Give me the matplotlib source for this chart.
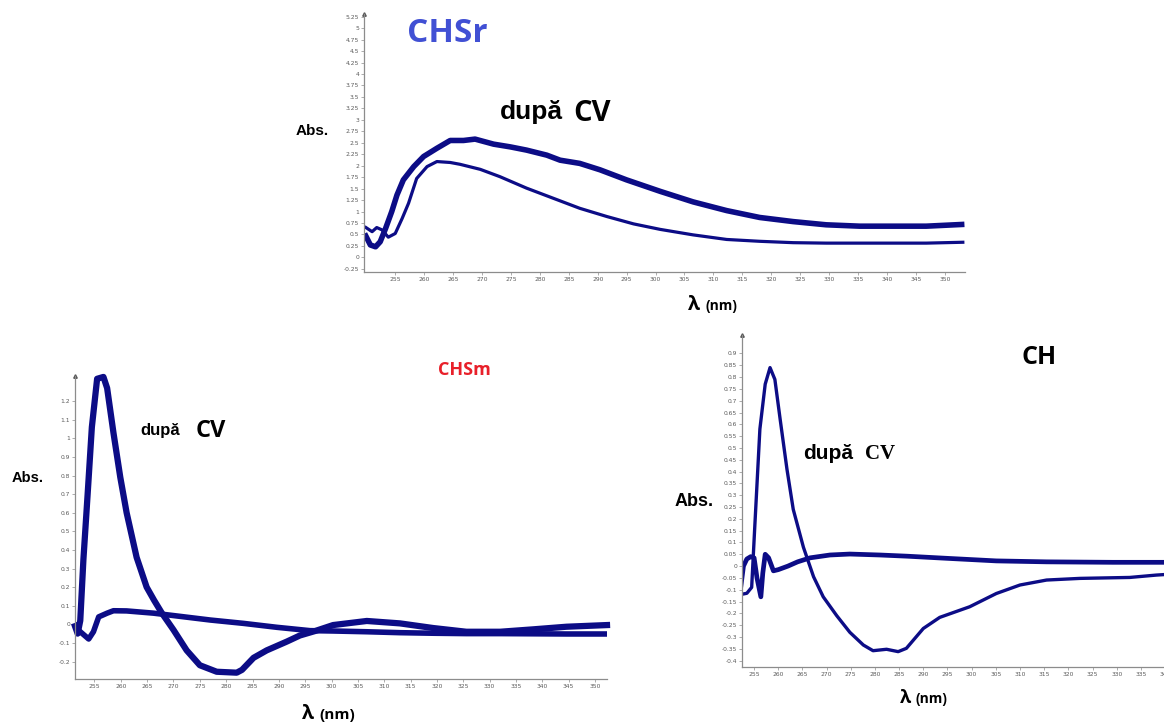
import numpy as np
import matplotlib.pyplot as plt

W, H = 1164, 724
NAVY = '#0c0c86'
AXIS = '#8c8c8c'
TICKTXT = '#5a5a5a'

# ---- CHSr (top panel) ----
chsr_wl_thick = [249.7, 250.7, 251.6, 252.4, 253.3, 254.4, 255.3, 256.4, 258.2, 259.9, 262.2,
                 264.5, 266.8, 268.8, 272.0, 274.9, 277.7, 281.2, 283.5, 286.9, 290.4, 295.0,
                 300.8, 306.5, 312.3, 318.0, 323.8, 329.5, 335.3, 341.1, 346.8, 353.4]
chsr_abs_thick = [0.52, 0.27, 0.23, 0.34, 0.62, 1.00, 1.36, 1.69, 1.98, 2.20, 2.38,
                  2.55, 2.55, 2.58, 2.47, 2.41, 2.34, 2.23, 2.12, 2.05, 1.91, 1.69,
                  1.44, 1.21, 1.02, 0.87, 0.78, 0.71, 0.68, 0.68, 0.68, 0.72]
chsr_wl_thin = [249.7, 251.0, 251.8, 252.7, 253.8, 255.0, 256.2, 257.3, 258.7, 260.5, 262.2,
                264.5, 266.2, 269.7, 273.1, 277.7, 282.3, 286.9, 291.6, 296.2, 300.8, 306.5,
                312.3, 318.0, 323.8, 329.5, 341.1, 346.8, 353.4]
chsr_abs_thin = [0.67, 0.56, 0.65, 0.60, 0.44, 0.52, 0.85, 1.18, 1.72, 1.98, 2.09,
                 2.07, 2.03, 1.92, 1.76, 1.51, 1.29, 1.07, 0.89, 0.73, 0.61, 0.49,
                 0.39, 0.35, 0.32, 0.31, 0.31, 0.31, 0.33]

# ---- CHSm (bottom left panel) ----
chsm_wl_peak = [251.3, 251.8, 252.3, 252.9, 253.7, 254.5, 255.5, 256.7, 257.4, 258.6, 259.9,
                261.1, 263.0, 264.9, 266.3, 267.8, 270.0, 272.5, 275.0, 278.2, 282.0, 283.0,
                285.2, 287.7, 291.5, 294.0, 297.0, 300.3, 306.7, 313.0, 319.3, 325.6, 332.0,
                338.3, 344.6, 352.3]
chsm_abs_peak = [-0.01, -0.05, 0.02, 0.35, 0.70, 1.06, 1.32, 1.33, 1.27, 1.03, 0.79,
                 0.60, 0.36, 0.20, 0.13, 0.06, -0.03, -0.14, -0.22, -0.255, -0.26, -0.245,
                 -0.18, -0.14, -0.093, -0.06, -0.035, -0.004, 0.018, 0.005, -0.02, -0.04, -0.04,
                 -0.027, -0.013, -0.004]
chsm_wl_flat = [251.3, 252.3, 253.9, 254.8, 255.8, 257.4, 258.6, 261.1, 266.2, 270.6, 277.0,
                283.3, 289.6, 295.9, 300.3, 306.7, 313.0, 319.3, 325.6, 332.0, 338.3, 344.6,
                352.3]
chsm_abs_flat = [-0.013, -0.04, -0.079, -0.04, 0.04, 0.06, 0.073, 0.072, 0.06, 0.045, 0.023,
                 0.005, -0.016, -0.034, -0.036, -0.04, -0.045, -0.048, -0.05, -0.05, -0.051, -0.052,
                 -0.052]

# ---- CH (bottom right panel) ----
ch_wl_peak = [252.3, 253.5, 254.5, 255.1, 256.2, 257.3, 258.3, 259.3, 260.4, 261.8, 263.1,
              265.2, 267.3, 269.3, 272.1, 274.8, 277.6, 279.6, 282.4, 284.8, 286.5, 288.5,
              290.0, 293.4, 299.6, 305.1, 310.0, 315.5, 322.4, 332.7, 338.2, 340.5]
ch_abs_peak = [-0.12, -0.115, -0.09, 0.15, 0.58, 0.77, 0.84, 0.79, 0.62, 0.41, 0.24,
               0.08, -0.045, -0.13, -0.21, -0.28, -0.334, -0.358, -0.352, -0.362, -0.348, -0.30,
               -0.264, -0.217, -0.172, -0.116, -0.08, -0.059, -0.052, -0.048, -0.038, -0.035]
ch_wl_flat = [252.3, 252.8, 253.5, 254.3, 255.0, 255.6, 256.4, 256.8, 257.3, 258.0, 259.0,
              260.0, 262.0, 264.0, 266.6, 270.7, 274.8, 281.0, 286.6, 294.8, 305.1, 315.5,
              329.2, 340.5]
ch_abs_flat = [-0.08, 0.0, 0.03, 0.04, 0.035, -0.05, -0.13, -0.03, 0.05, 0.035, -0.02,
               -0.015, 0.0, 0.018, 0.035, 0.047, 0.051, 0.047, 0.042, 0.033, 0.022, 0.018,
               0.016, 0.016]

fig = plt.figure(figsize=(W / 100, H / 100), dpi=100)


def add_px_axes(left, top, right, bottom):
    return fig.add_axes([left / W, 1 - bottom / H, (right - left) / W, (bottom - top) / H])


def style(ax, xticks, yticks):
    for s in ['top', 'right']:
        ax.spines[s].set_visible(False)
    for s in ['left', 'bottom']:
        ax.spines[s].set_color(AXIS)
        ax.spines[s].set_linewidth(0.9)
    ax.set_xticks(xticks)
    ax.set_xticklabels(['%g' % t for t in xticks])
    ax.set_yticks(yticks)
    ax.set_yticklabels(['%g' % (round(t, 2) + 0.0) for t in yticks])
    ax.tick_params(labelsize=4.3, colors=AXIS, labelcolor=TICKTXT, length=2, width=0.5, pad=1.5)
    ax.plot(0, 1, '^', transform=ax.transAxes, clip_on=False, ms=2.5, color='#555555')
    ax.patch.set_alpha(0)


def ftext(x, y, s, **kw):
    fig.text(x / W, 1 - y / H, s, **kw)


# top panel
ax1 = add_px_axes(364, 14, 965, 272)
ax1.plot(chsr_wl_thin, chsr_abs_thin, color=NAVY, lw=2.3, solid_capstyle='butt')
ax1.plot(chsr_wl_thick, chsr_abs_thick, color=NAVY, lw=4.0, solid_capstyle='butt')
ax1.set_xlim(249.6, 353.5)
ax1.set_ylim(-0.32, 5.31)
style(ax1, np.arange(255, 351, 5), np.arange(-0.25, 5.26, 0.25))

# bottom left panel
ax2 = add_px_axes(75, 376, 607, 679)
ax2.plot(chsm_wl_flat, chsm_abs_flat, color=NAVY, lw=4.0)
ax2.plot(chsm_wl_peak, chsm_abs_peak, color=NAVY, lw=4.5, clip_on=False)
ax2.set_xlim(251.3, 352.3)
ax2.set_ylim(-0.294, 1.335)
style(ax2, np.arange(255, 351, 5), np.arange(-0.2, 1.21, 0.1))

# bottom right panel
ax3 = add_px_axes(742, 335, 1166, 667)
ax3.plot(ch_wl_flat, ch_abs_flat, color=NAVY, lw=3.4)
ax3.plot(ch_wl_peak, ch_abs_peak, color=NAVY, lw=2.4)
ax3.set_xlim(252.5, 340.2)
ax3.set_ylim(-0.427, 0.978)
style(ax3, np.arange(255, 341, 5), np.arange(-0.4, 0.91, 0.05))

sans = ['Liberation Sans', 'DejaVu Sans']
open_sans = ['Open Sans', 'DejaVu Sans']
serif = ['Liberation Serif', 'DejaVu Serif']

# top panel texts
ftext(447, 33, 'CHSr', color='#4150d4', fontsize=24, fontweight='bold', family=open_sans,
      ha='center', va='center')
ftext(500, 119, 'după', fontsize=19, fontweight='bold', family=sans, ha='left', va='baseline')
ftext(573, 121, 'CV', fontsize=21, fontweight='bold', family=open_sans, ha='left', va='baseline')
ftext(312, 131, 'Abs.', fontsize=11, fontweight='bold', family=sans, ha='center', va='center')
ftext(688, 310, 'λ', fontsize=14, fontweight='bold', family=open_sans, ha='left', va='baseline')
ftext(705, 310, '(nm)', fontsize=10, fontweight='bold', family=open_sans, ha='left', va='baseline')

# bottom left texts
ftext(464, 370, 'CHSm', color='#e8202a', fontsize=13, fontweight='bold', family=open_sans,
      ha='center', va='center')
ftext(140, 435, 'după', fontsize=12, fontweight='bold', family=sans, ha='left', va='baseline')
ftext(196, 437, 'CV', fontsize=17, fontweight='bold', family=open_sans, ha='left', va='baseline')
ftext(28, 478, 'Abs.', fontsize=10.5, fontweight='bold', family=sans, ha='center', va='center')
ftext(302, 719, 'λ', fontsize=14, fontweight='bold', family=open_sans, ha='left', va='baseline')
ftext(319, 719, '(nm)', fontsize=11, fontweight='bold', family=open_sans, ha='left', va='baseline')

# bottom right texts
ftext(1039, 358, 'CH', fontsize=18, fontweight='bold', family=open_sans, ha='center', va='center')
ftext(803, 459, 'după', fontsize=15, fontweight='bold', family=sans, ha='left', va='baseline')
ftext(865, 459, 'CV', fontsize=15, fontweight='bold', family=serif, ha='left', va='baseline')
ftext(694, 502, 'Abs.', fontsize=13, fontweight='bold', family=sans, ha='center', va='center')
ftext(900, 703, 'λ', fontsize=13, fontweight='bold', family=open_sans, ha='left', va='baseline')
ftext(915, 703, '(nm)', fontsize=10, fontweight='bold', family=open_sans, ha='left', va='baseline')

fig.savefig('out.png', dpi=100)
